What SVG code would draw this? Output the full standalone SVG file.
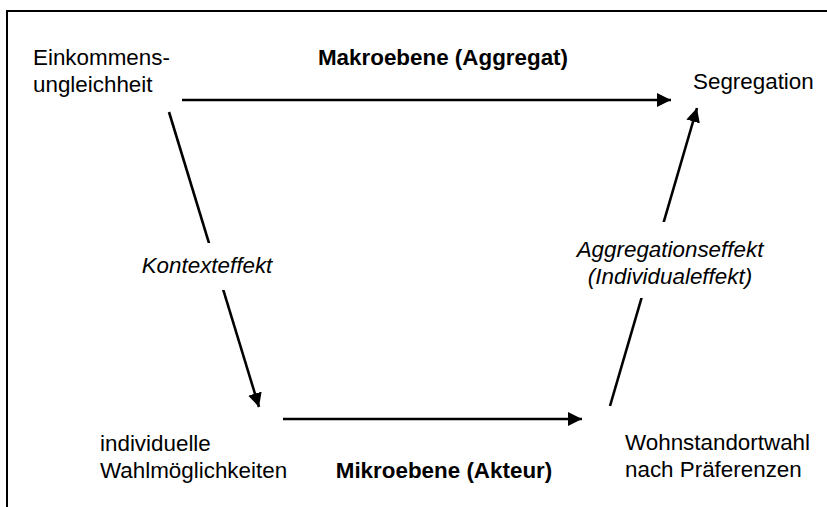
<svg xmlns="http://www.w3.org/2000/svg" width="827" height="507" viewBox="0 0 827 507">
  <style>
    .t { font-family: "Liberation Sans", Arial, sans-serif; font-size: 22.4px; fill: #000; }
    .b { font-weight: bold; }
    .i { font-style: italic; }
    .edge { stroke: #000; stroke-width: 2.6; fill: none; marker-end: url(#head); }
    .frame { stroke: #000; stroke-width: 2; fill: none; }
  </style>
  <defs>
    <marker id="head" markerUnits="userSpaceOnUse" markerWidth="16" markerHeight="14" refX="14" refY="7" orient="auto">
      <path d="M0,0 L14,7 L0,14 Z" fill="#000"/>
    </marker>
  </defs>
  <rect width="827" height="507" fill="#fff"/>

  <!-- partial frame: top and left edges -->
  <path class="frame" d="M7,507 V11 H827"/>

  <!-- level labels -->
  <g id="makro">
    <text class="t b" x="443" y="65" text-anchor="middle">Makroebene (Aggregat)</text>
  </g>
  <g id="mikro">
    <text class="t b" x="444" y="478" text-anchor="middle">Mikroebene (Akteur)</text>
  </g>

  <g id="einkommen">
    <text class="t" x="33" y="65">Einkommens-</text>
    <text class="t" x="33" y="92">ungleichheit</text>
  </g>
  <g id="segregation">
    <text class="t" x="693" y="89">Segregation</text>
  </g>
  <g id="wahl">
    <text class="t" x="100" y="451">individuelle</text>
    <text class="t" x="100" y="478">Wahlmöglichkeiten</text>
  </g>
  <g id="wohnstandort">
    <text class="t" x="625" y="450">Wohnstandortwahl</text>
    <text class="t" x="625" y="477">nach Präferenzen</text>
  </g>

  <g id="connectors">
    <line class="edge" x1="182" y1="100" x2="671" y2="100"/>
    <line class="edge" x1="169" y1="112" x2="259" y2="407"/>
    <line class="edge" x1="283" y1="419" x2="582" y2="419"/>
    <line class="edge" x1="610" y1="406" x2="697" y2="108"/>
  </g>

  <!-- edge labels, on white so the lines break around them -->
  <g id="label-kontext">
    <rect x="136" y="243" width="144" height="47" fill="#fff"/>
    <text class="t i" x="207" y="273" text-anchor="middle">Kontexteffekt</text>
  </g>
  <g id="label-aggregation">
    <rect x="570" y="222" width="200" height="76" fill="#fff"/>
    <text class="t i" x="670" y="257" text-anchor="middle">Aggregationseffekt</text>
    <text class="t i" x="670" y="284" text-anchor="middle">(Individualeffekt)</text>
  </g>
</svg>
